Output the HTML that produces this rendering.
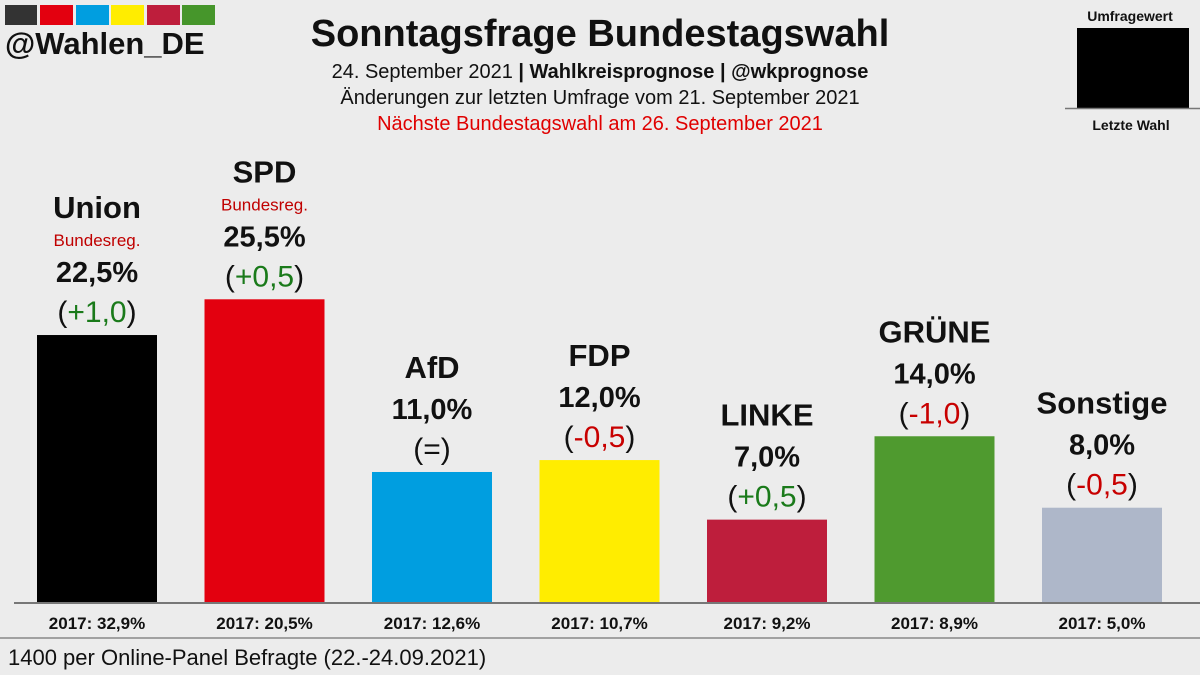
<!DOCTYPE html>
<html><head><meta charset="utf-8"><style>
body{margin:0;background:#ececec;}
svg{display:block;font-family:"Liberation Sans",sans-serif;}
</style></head><body>
<svg width="1200" height="675" viewBox="0 0 1200 675">
<rect width="1200" height="675" fill="#ececec"/>
<g>
<rect x="5" y="5" width="32" height="20" fill="#333"/><rect x="40" y="5" width="33" height="20" fill="#e3000f"/><rect x="76" y="5" width="33" height="20" fill="#009ee0"/><rect x="111" y="5" width="33" height="20" fill="#ffed00"/><rect x="147" y="5" width="33" height="20" fill="#be1e3c"/><rect x="182" y="5" width="33" height="20" fill="#46962b"/>
<text x="5" y="54" font-size="31" font-weight="bold" fill="#111">@Wahlen_DE</text>
</g>
<text x="600" y="46" text-anchor="middle" font-size="38" font-weight="bold" fill="#111">Sonntagsfrage Bundestagswahl</text>
<text x="600" y="78" text-anchor="middle" font-size="20" fill="#111">24. September 2021 <tspan font-weight="bold">| Wahlkreisprognose | @wkprognose</tspan></text>
<text x="600" y="104" text-anchor="middle" font-size="20" fill="#111">Änderungen zur letzten Umfrage vom 21. September 2021</text>
<text x="600" y="130" text-anchor="middle" font-size="20" fill="#e00000">Nächste Bundestagswahl am 26. September 2021</text>
<g>
<text x="1130" y="21" text-anchor="middle" font-size="14" font-weight="bold" fill="#111">Umfragewert</text>
<rect x="1077" y="28" width="112" height="80" fill="#000"/>
<line x1="1065" y1="108.5" x2="1200" y2="108.5" stroke="#777" stroke-width="1.5"/>
<text x="1131" y="130" text-anchor="middle" font-size="14" font-weight="bold" fill="#111">Letzte Wahl</text>
</g>
<g id="bars"></g>
<line x1="14" y1="603" x2="1200" y2="603" stroke="#777" stroke-width="2"/>
<line x1="0" y1="638" x2="1200" y2="638" stroke="#888" stroke-width="1.5"/>
<text x="8" y="665" font-size="22" fill="#111">1400 per Online-Panel Befragte (22.-24.09.2021)</text>
</svg>
<script>
const parties=["Union","SPD","AfD","FDP","LINKE","GRÜNE","Sonstige"];
const values=[22.5,25.5,11.0,12.0,7.0,14.0,8.0];
const changes=["+1,0","+0,5","=","-0,5","+0,5","-1,0","-0,5"];
const prev=["32,9","20,5","12,6","10,7","9,2","8,9","5,0"];
const govt=[true,true,false,false,false,false,false];
const colors=["#000000","#e3000f","#009ee0","#ffed00","#be1e3c","#4f9a2f","#aeb7c9"];
const NS="http://www.w3.org/2000/svg";
const base=603, scale=11.91, x0=37, step=167.5, bw=120;
const y=v=>base-v*scale, xc=i=>x0+i*step;
const g=document.getElementById('bars');
function t(x,yy,s,size,w,fill){const e=document.createElementNS(NS,'text');e.setAttribute('x',x);e.setAttribute('y',yy);e.setAttribute('text-anchor','middle');e.setAttribute('font-size',size);e.setAttribute('font-weight',w);e.setAttribute('fill',fill);e.textContent=s;g.appendChild(e);return e;}
parties.forEach((p,i)=>{
  const top=y(values[i]), cx=xc(i)+bw/2;
  const r=document.createElementNS(NS,'rect');
  r.setAttribute('x',xc(i));r.setAttribute('y',top);r.setAttribute('width',bw);r.setAttribute('height',base-top);r.setAttribute('fill',colors[i]);
  
  
  g.appendChild(r);
  const c=changes[i];
  const ce=t(cx,top-13,'',30,'normal','#111');
  
  
  const col=c==='='?'#111':(c[0]==='+'?'#1a7a1a':'#c80000');
  ce.innerHTML='(<tspan fill="'+col+'">'+c+'</tspan>)';
  const pe=t(cx,top-53,values[i].toFixed(1).replace('.',',')+'%',29,'bold','#111');
  
  
  let ny=top-94;
  if(govt[i]){
    const ge=t(cx,top-89,'Bundesreg.',17,'normal','#c00000');
    
    
    ny=top-117;
  }
  const ne=t(cx,ny,p,31,'bold','#111');
  
  
  const le=t(cx,629,'2017: '+prev[i]+'%',17,'bold','#111');
  
  
});
</script>
</body></html>
